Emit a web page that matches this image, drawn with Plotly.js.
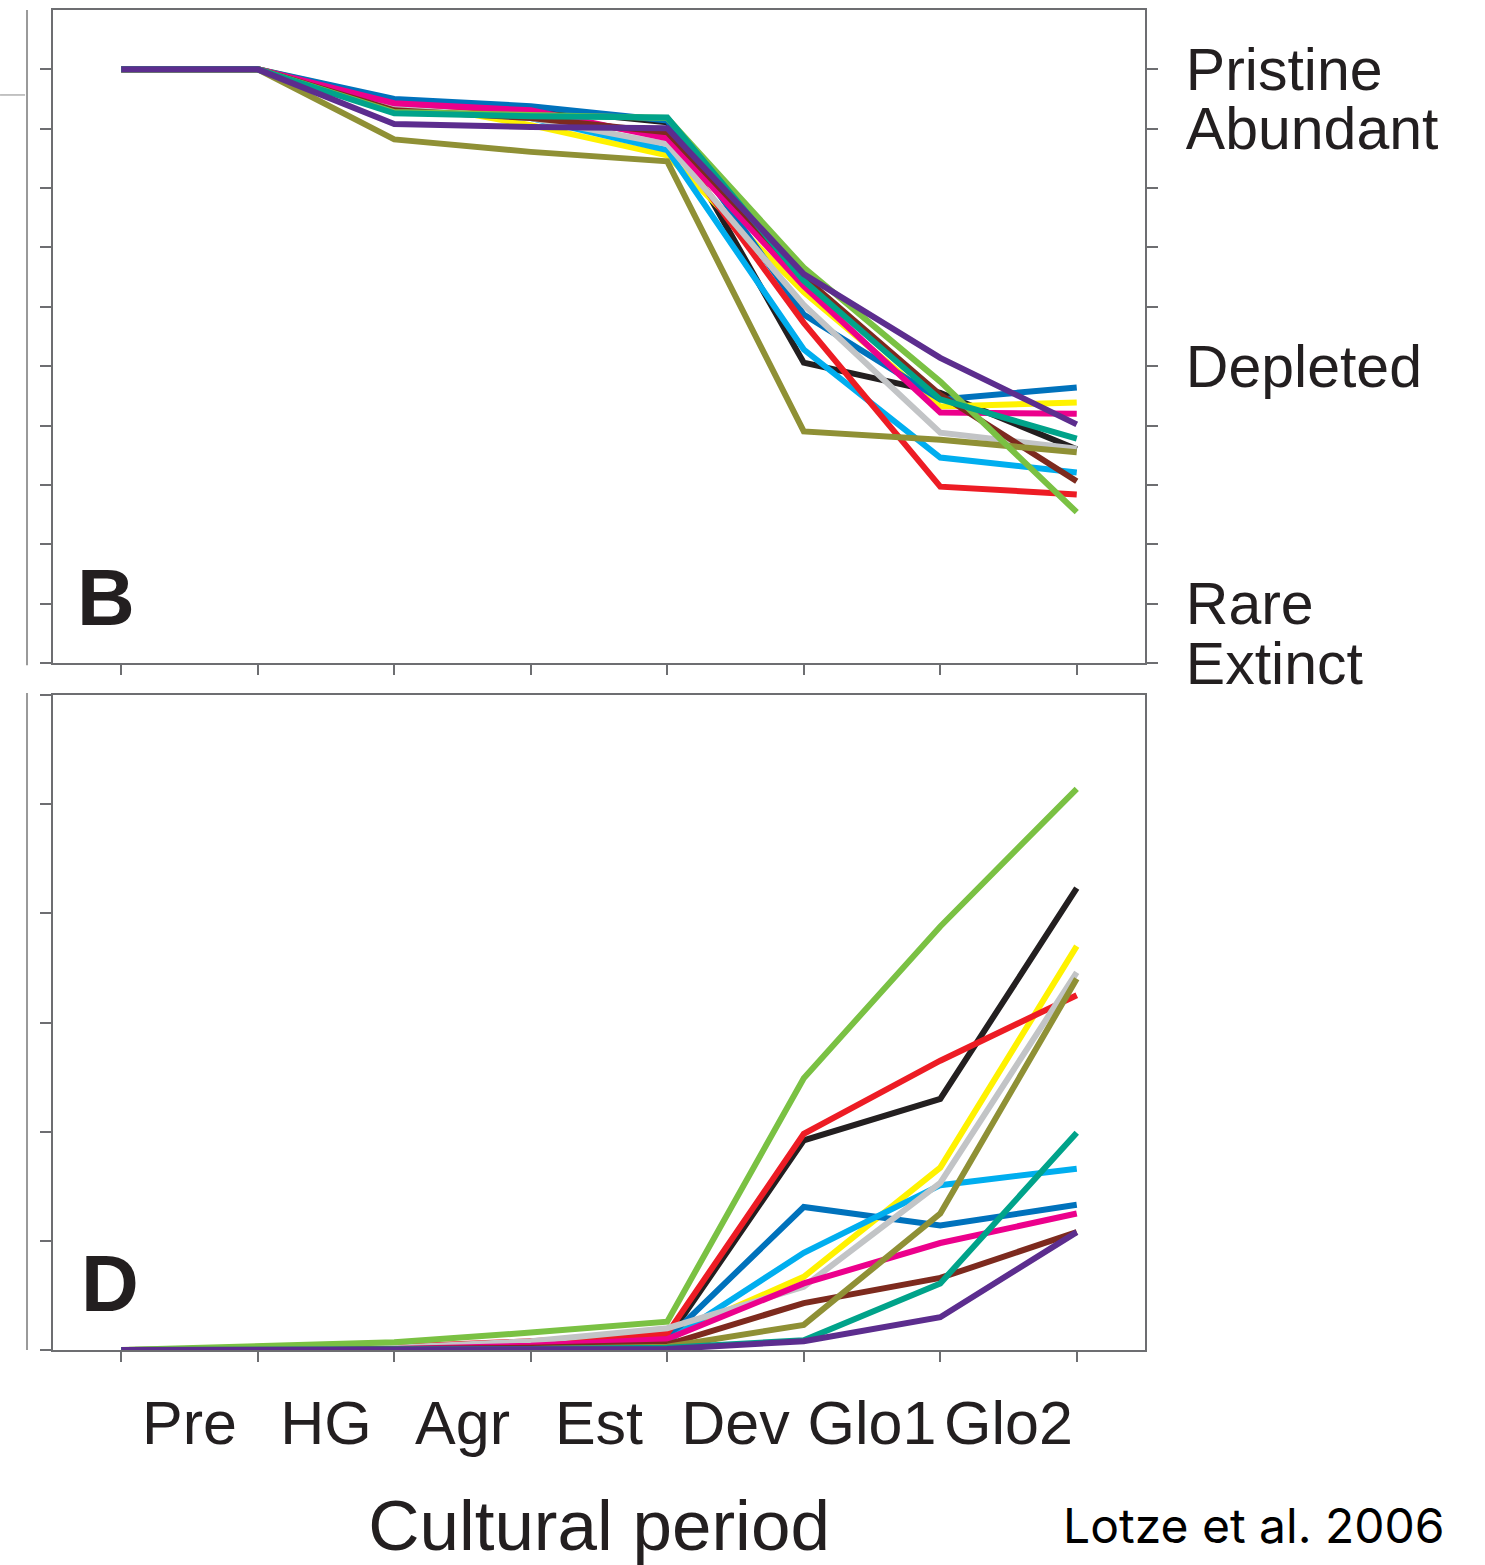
<!DOCTYPE html>
<html>
<head>
<meta charset="utf-8">
<script src="https://cdn.plot.ly/plotly-3.0.1.min.js"></script>
<style>
  html, body { margin: 0; padding: 0; background: #ffffff; }
  #chart { width: 1485px; height: 1565px; }
</style>
</head>
<body>
<div id="chart"></div>
<script>
// ---- Data ----
const stagePoints = [0, 1, 2, 3, 4, 5, 6, 7];
const periods = ['Pre', 'HG', 'Agr', 'Est', 'Dev', 'Glo1', 'Glo2'];
const statusValues = [0, 10, 20, 30, 40, 50, 60, 70, 80, 90, 100];
const statusLabels = ['Extinct', 'Rare', '', '', '', 'Depleted', '', '', '', 'Abundant', 'Pristine'];
const dTickValues = [0, 1, 2, 3, 4, 5, 6];

// Panel B: abundance status (% of pristine)
const bYellow = [100, 100, 94.8, 90.6, 85.5, 62.5, 43.2, 43.9];
const bBlack  = [100, 100, 94.5, 93.4, 91.1, 50.6, 45.5, 36.0];
const bBlue   = [100, 100, 95.0, 93.8, 91.4, 58.7, 44.4, 46.4];
const bCyan   = [100, 100, 93.4, 91.8, 86.4, 52.8, 34.6, 32.1];
const bRed    = [100, 100, 93.8, 92.6, 88.7, 57.3, 29.7, 28.4];
const bGrey   = [100, 100, 93.4, 91.8, 87.4, 60.3, 38.8, 36.1];
const bPink   = [100, 100, 94.3, 93.1, 88.4, 63.5, 42.2, 42.0];
const bBrown  = [100, 100, 93.1, 91.8, 89.4, 65.0, 45.2, 30.6];
const bOlive  = [100, 100, 88.2, 86.1, 84.5, 39.0, 37.6, 35.5];
const bGreen  = [100, 100, 92.8, 92.4, 91.8, 66.6, 47.4, 25.4];
const bTeal   = [100, 100, 92.6, 92.1, 91.9, 64.4, 44.4, 37.8];
const bPurple = [100, 100, 90.8, 90.3, 90.1, 65.5, 51.4, 40.2];

// Panel D
const dYellow = [0, 0, 0.01, 0.04, 0.12, 0.67, 1.67, 3.70];
const dBlack  = [0, 0, 0.02, 0.05, 0.10, 1.92, 2.30, 4.23];
const dBlue   = [0, 0, 0.02, 0.05, 0.10, 1.31, 1.14, 1.33];
const dCyan   = [0, 0, 0.01, 0.03, 0.08, 0.89, 1.51, 1.66];
const dRed    = [0, 0, 0.03, 0.08, 0.15, 1.98, 2.65, 3.25];
const dGrey   = [0, 0, 0.02, 0.08, 0.20, 0.58, 1.53, 3.46];
const dPink   = [0, 0, 0.01, 0.04, 0.10, 0.61, 0.98, 1.25];
const dBrown  = [0, 0, 0.01, 0.02, 0.05, 0.43, 0.66, 1.08];
const dOlive  = [0, 0, 0.00, 0.01, 0.03, 0.23, 1.25, 3.40];
const dGreen  = [0, 0.03, 0.07, 0.16, 0.26, 2.49, 3.88, 5.14];
const dTeal   = [0, 0, 0.00, 0.01, 0.02, 0.09, 0.61, 1.99];
const dPurple = [0, 0, 0.00, 0.00, 0.01, 0.08, 0.30, 1.08];

// ---- Styles ----
const colYellow = '#fff200', colBlack = '#231f20', colBlue = '#0072bc', colCyan = '#00aeef',
      colRed = '#ed1c24', colGrey = '#c2c4c6', colPink = '#ec008c', colBrown = '#7d2a1e',
      colOlive = '#8f9035', colGreen = '#7ac143', colTeal = '#00a38a', colPurple = '#5c2d8e';

const axisCol = '#6d6e71';
const txtCol = '#231f20';
const lw = 6;

function line(y, color, xa, ya) {
  return { x: stagePoints, y: y, xaxis: xa, yaxis: ya, mode: 'lines', type: 'scatter',
           line: { color: color, width: lw }, hoverinfo: 'skip', showlegend: false };
}

const bSeries = [[bBlack, colBlack], [bYellow, colYellow], [bBlue, colBlue], [bCyan, colCyan],
                 [bRed, colRed], [bGrey, colGrey], [bPink, colPink], [bBrown, colBrown],
                 [bOlive, colOlive], [bGreen, colGreen], [bTeal, colTeal], [bPurple, colPurple]];
const dSeries = [[dYellow, colYellow], [dBlack, colBlack], [dBlue, colBlue], [dCyan, colCyan],
                 [dRed, colRed], [dGrey, colGrey], [dPink, colPink], [dBrown, colBrown],
                 [dOlive, colOlive], [dGreen, colGreen], [dTeal, colTeal], [dPurple, colPurple]];

const traces = [];
bSeries.forEach(s => traces.push(line(s[0], s[1], 'x', 'y')));
dSeries.forEach(s => traces.push(line(s[0], s[1], 'x2', 'y2')));
// empty helpers so the overlay axes are registered
traces.push({ x: [], y: [], xaxis: 'x', yaxis: 'y3', type: 'scatter', mode: 'lines', showlegend: false, hoverinfo: 'skip' });
traces.push({ x: [], y: [], xaxis: 'x3', yaxis: 'y2', type: 'scatter', mode: 'lines', showlegend: false, hoverinfo: 'skip' });

const xRange = [-0.5, 7.5];
const font = 'Liberation Sans, Arial, Helvetica, sans-serif';

const baseX = {
  range: xRange, tickvals: stagePoints, showticklabels: false, ticks: 'outside',
  ticklen: 10, tickwidth: 2, tickcolor: axisCol, showline: true, linecolor: axisCol,
  linewidth: 2, mirror: true, showgrid: false, zeroline: false, fixedrange: true
};

const layout = {
  width: 1485, height: 1565,
  margin: { l: 53, r: 340, t: 10, b: 215 },
  paper_bgcolor: '#ffffff', plot_bgcolor: '#ffffff',
  font: { family: font, color: txtCol },
  xaxis: Object.assign({}, baseX, { domain: [0, 1], anchor: 'y' }),
  yaxis: {
    domain: [0.5127, 1], anchor: 'x', range: [0, 110], tickvals: statusValues,
    showticklabels: false, ticks: 'outside', ticklen: 11, tickwidth: 2, tickcolor: axisCol,
    showline: true, linecolor: axisCol, linewidth: 2, mirror: true, showgrid: false, zeroline: false
  },
  yaxis3: {
    overlaying: 'y', side: 'right', anchor: 'x', range: [0, 110], tickvals: statusValues,
    ticktext: statusLabels, ticks: 'outside', ticklen: 12, tickwidth: 2, tickcolor: axisCol,
    showline: false, showgrid: false, zeroline: false, ticklabelstandoff: 16,
    tickfont: { family: font, size: 59, color: txtCol }
  },
  xaxis2: Object.assign({}, baseX, { domain: [0, 1], anchor: 'y2' }),
  yaxis2: {
    domain: [0, 0.4888], anchor: 'x2', range: [0, 6], tickvals: dTickValues,
    showticklabels: false, ticks: 'outside', ticklen: 11, tickwidth: 2, tickcolor: axisCol,
    showline: true, linecolor: axisCol, linewidth: 2, mirror: true, showgrid: false, zeroline: false
  },
  xaxis3: {
    overlaying: 'x2', anchor: 'y2', side: 'bottom', range: xRange,
    tickvals: periods.map((p, i) => i + 0.5), ticktext: periods, ticks: '',
    showline: false, showgrid: false, zeroline: false, ticklabelstandoff: 32,
    tickfont: { family: font, size: 61, color: txtCol },
    title: { text: 'Cultural period', font: { family: font, size: 71, color: txtCol }, standoff: 54 }
  },
  shapes: [
    { type: 'line', xref: 'paper', yref: 'paper', x0: -0.0238, x1: -0.0238, y0: 0.511, y1: 1.0,
      line: { color: '#9a9a9a', width: 2 } },
    { type: 'line', xref: 'paper', yref: 'paper', x0: -0.0238, x1: -0.0238, y0: 0, y1: 0.4903,
      line: { color: '#9a9a9a', width: 2 } },
    { type: 'line', xref: 'paper', yref: 'paper', x0: -0.0485, x1: -0.0256, y0: 0.9366, y1: 0.9366,
      line: { color: '#b0b0b0', width: 1.5 } }
  ],
  annotations: [
    { text: '<b>B</b>', xref: 'paper', yref: 'paper', x: 0.0201, y: 0.5619, xanchor: 'left', yanchor: 'middle',
      showarrow: false, font: { family: font, size: 80, color: txtCol } },
    { text: '<b>D</b>', xref: 'paper', yref: 'paper', x: 0.0238, y: 0.0493, xanchor: 'left', yanchor: 'middle',
      showarrow: false, font: { family: font, size: 80, color: txtCol } },
    { text: 'Lotze et al. 2006', xref: 'paper', yref: 'paper', x: 1.2766, y: -0.1306, xanchor: 'right', yanchor: 'middle',
      showarrow: false, font: { family: 'Inter, Lato, sans-serif', size: 48, color: '#000000' } }
  ]
};

Plotly.newPlot('chart', traces, layout, { staticPlot: true, displayModeBar: false });
</script>
</body>
</html>
